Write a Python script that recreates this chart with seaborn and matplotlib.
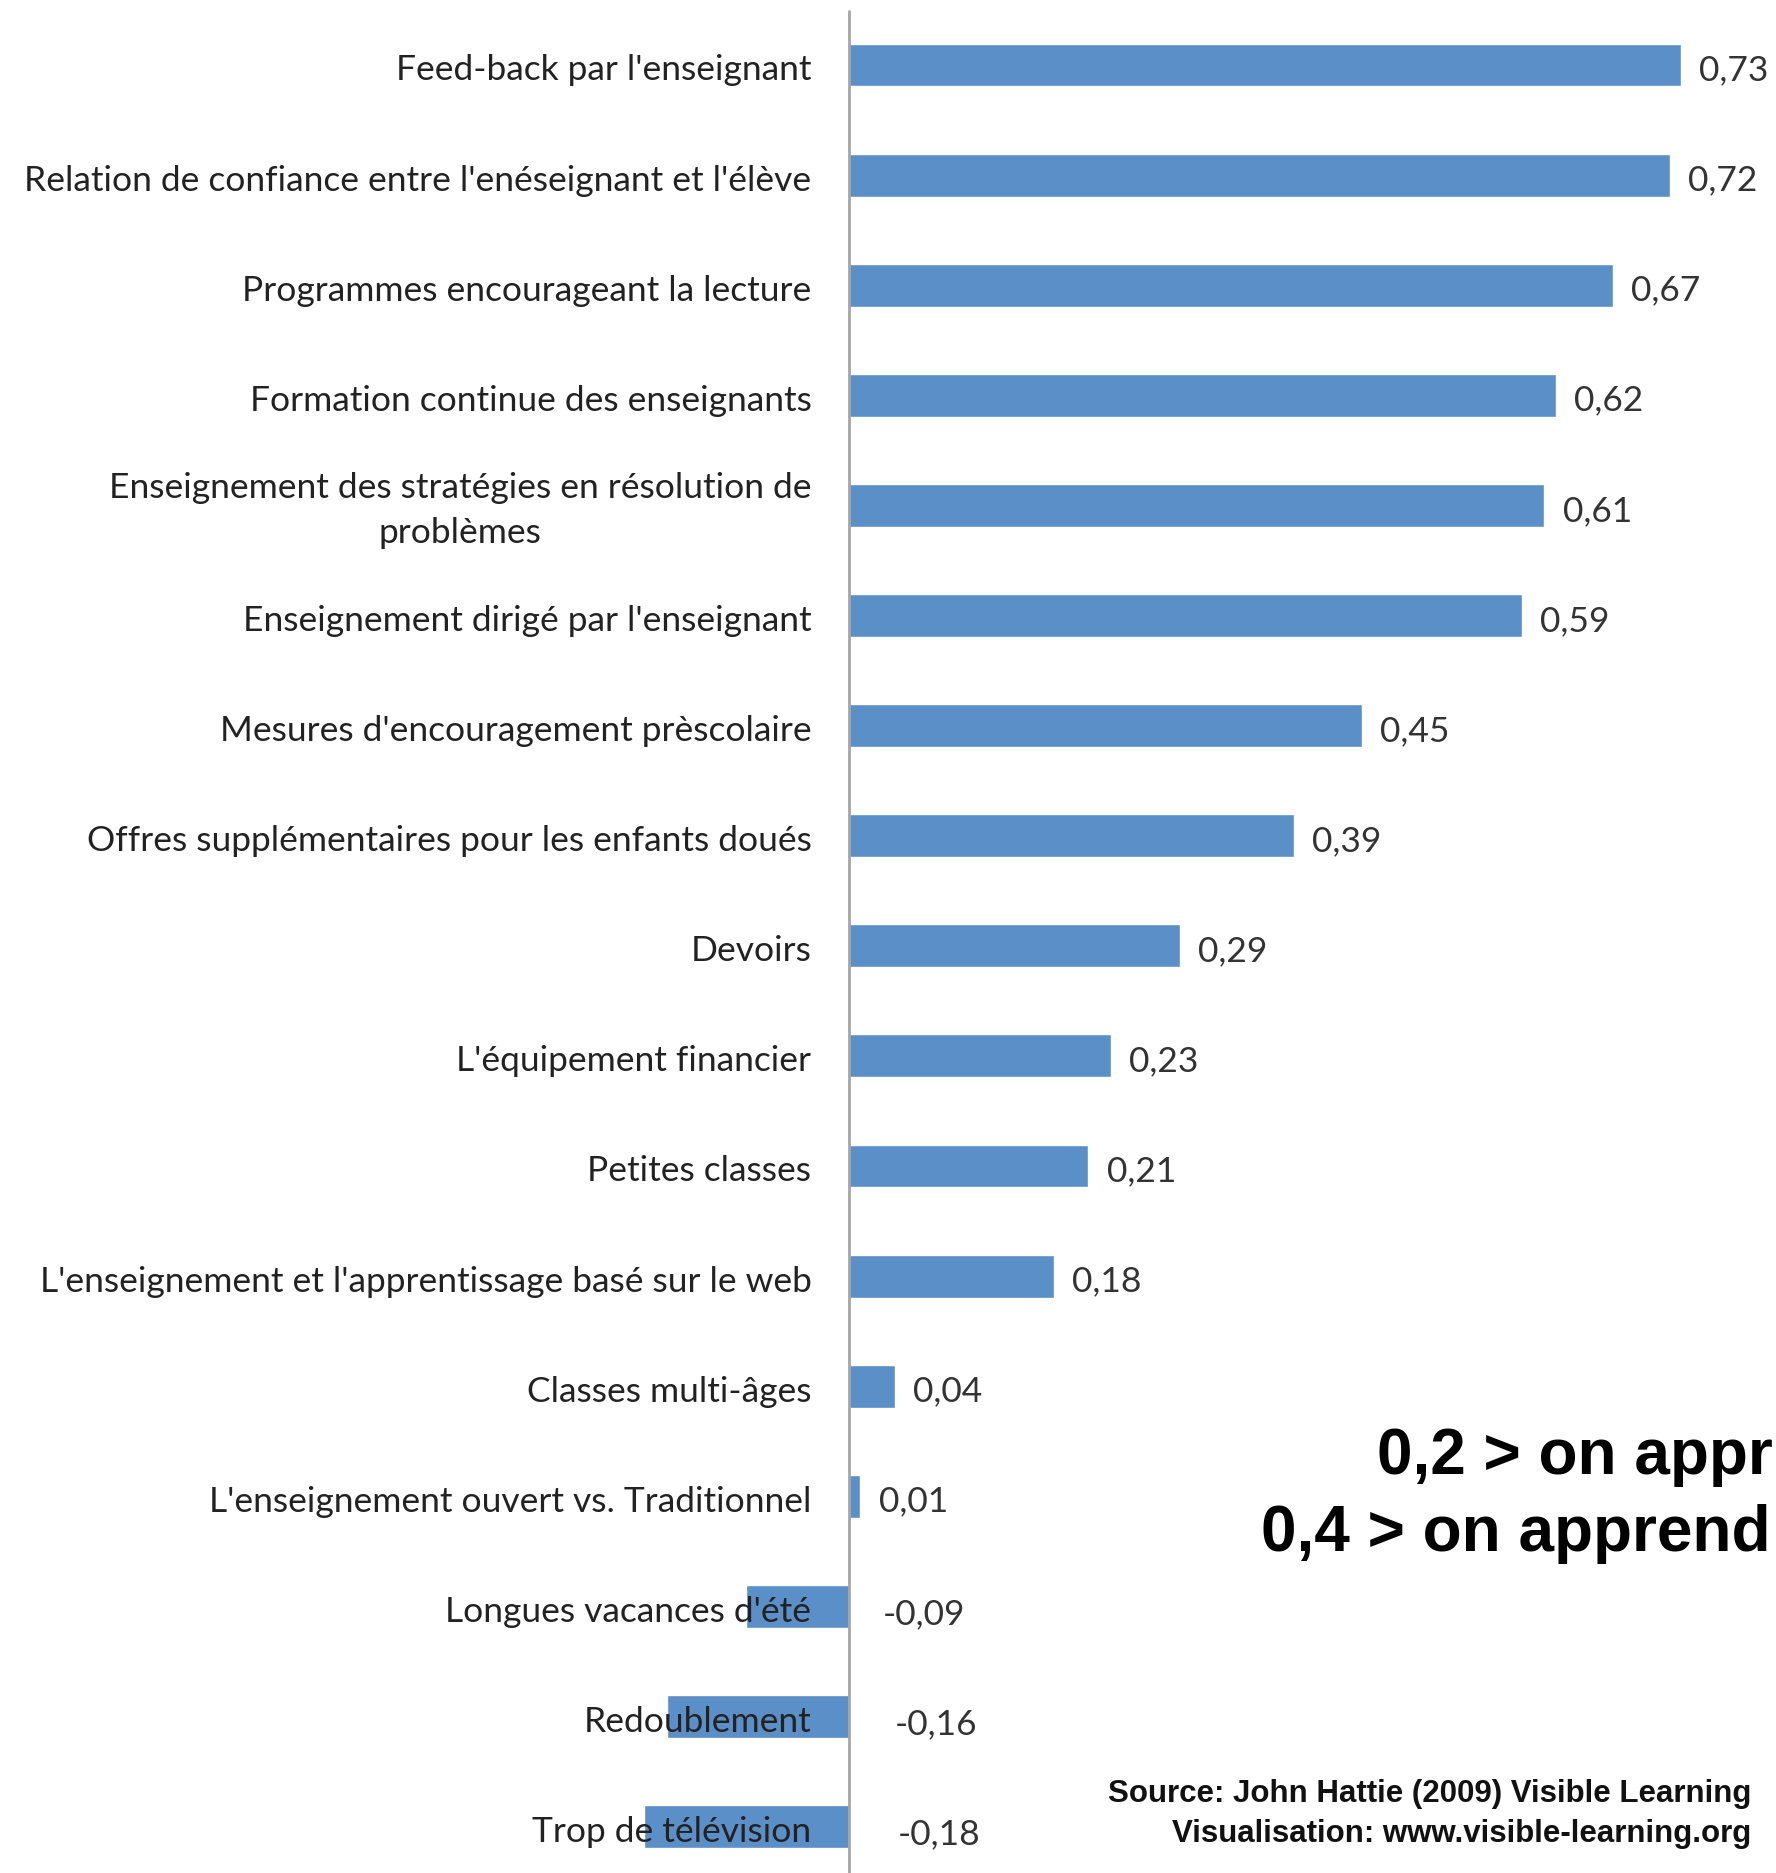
import matplotlib
matplotlib.use("Agg")
import matplotlib.pyplot as plt
import seaborn as sns

# data
categories = [
    "Feed-back par l'enseignant",
    "Relation de confiance entre l'enéseignant et l'élève",
    "Programmes encourageant la lecture",
    "Formation continue des enseignants",
    "Enseignement des stratégies en résolution de\nproblèmes",
    "Enseignement dirigé par l'enseignant",
    "Mesures d'encouragement prèscolaire",
    "Offres supplémentaires pour les enfants doués",
    "Devoirs",
    "L'équipement financier",
    "Petites classes",
    "L'enseignement et l'apprentissage basé sur le web",
    "Classes multi-âges",
    "L'enseignement ouvert vs. Traditionnel",
    "Longues vacances d'été",
    "Redoublement",
    "Trop de télévision",
]
values = [0.73, 0.72, 0.67, 0.62, 0.61, 0.59, 0.45, 0.39, 0.29, 0.23,
          0.21, 0.18, 0.04, 0.01, -0.09, -0.16, -0.18]
annotation_lines = ["0,2 > on appr", "0,4 > on apprend"]
source_lines = ["Source: John Hattie (2009) Visible Learning",
                "Visualisation: www.visible-learning.org"]

BAR_COLOR = "#5b8fc7"
W, H = 1776, 1874
BOLD_FONT = ["Liberation Sans", "DejaVu Sans"]

sns.set_style("white")
plt.rcParams["font.family"] = ["Lato", "DejaVu Sans"]

fig = plt.figure(figsize=(W / 100, H / 100), dpi=100)
ax = fig.add_axes([0, 0, 1, 1])

sns.barplot(x=values, y=categories, orient="h", color=BAR_COLOR,
            width=0.39, saturation=1, ax=ax, zorder=1)

# zero at x=849px, 1140 px per unit; bar centres from 66px every 110.1px
ax.set_xlim(-849 / 1140, (W - 849) / 1140)
ax.set_ylim((H - 66) / 110.1, -66 / 110.1)
ax.axvline(0, ymin=0, ymax=1 - 12 / H, color="#a6a6a6", linewidth=2, zorder=2)
ax.set_axis_off()

for i, (cat, v) in enumerate(zip(categories, values)):
    ax.text(-0.033, i + 0.04, cat, ha="right", va="center", fontsize=25.5,
            color="#222222", multialignment="center", linespacing=1.5, zorder=3)
    label = f"{v:.2f}".replace(".", ",")
    if v >= 0:
        ax.text(v + 0.016, i + 0.04, label, ha="left", va="center", fontsize=25.5,
                color="#333333", zorder=3)
    else:
        ax.text(0.016 + 0.15 * abs(v), i + 0.06, label, ha="left", va="center",
                fontsize=25.5, color="#333333", zorder=3)

fig.text(1377 / W, 1 - 1474 / H, annotation_lines[0], ha="left", va="baseline",
         fontsize=46, fontweight="bold", color="black", family=BOLD_FONT)
fig.text(1261 / W, 1 - 1551 / H, annotation_lines[1], ha="left", va="baseline",
         fontsize=46, fontweight="bold", color="black", family=BOLD_FONT)

fig.text(1751 / W, 1 - 1802 / H, source_lines[0], ha="right", va="baseline",
         fontsize=22.5, fontweight="bold", color="#111111", family=BOLD_FONT)
fig.text(1751 / W, 1 - 1842 / H, source_lines[1], ha="right", va="baseline",
         fontsize=22.5, fontweight="bold", color="#111111", family=BOLD_FONT)

fig.savefig("out.png", dpi=100)
